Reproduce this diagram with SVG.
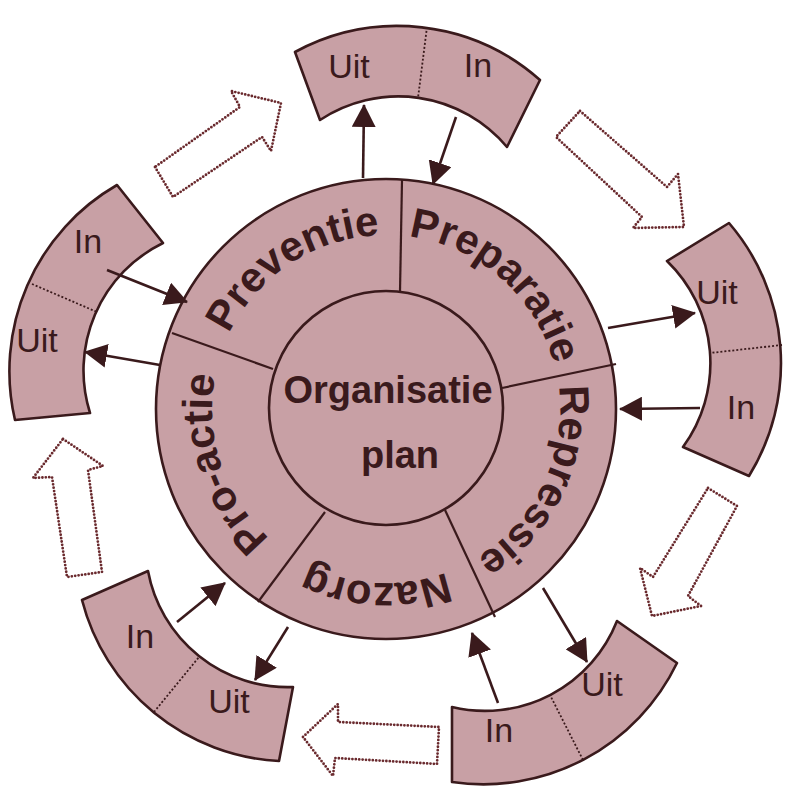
<svg xmlns="http://www.w3.org/2000/svg" xmlns:xlink="http://www.w3.org/1999/xlink" width="800" height="803" viewBox="0 0 800 803">
<style>
.shape{fill:#c8a0a5;stroke:#3a1a1c;stroke-width:2.6;stroke-linejoin:round}
.div{stroke:#3a1a1c;stroke-width:2.2;fill:none}
.dash{stroke:#3a1a1c;stroke-width:1.8;stroke-dasharray:2 2;fill:none}
.lbl{font-family:"Liberation Sans",Arial,sans-serif;font-size:34px;fill:#3a1a1c;text-anchor:middle}
.ring{font-family:"Liberation Sans",Arial,sans-serif;font-size:42px;font-weight:bold;fill:#3a1a1c}
.ctr{font-family:"Liberation Sans",Arial,sans-serif;font-size:38px;font-weight:bold;fill:#3a1a1c;text-anchor:middle}
.con{stroke:#3a1a1c;stroke-width:2.6;fill:none;marker-end:url(#ah)}
.blk{fill:none;stroke:#6a2a2e;stroke-width:2.8;stroke-dasharray:0 3.4;stroke-linecap:round;stroke-linejoin:round}
</style>
<defs>
<marker id="ah" viewBox="0 0 23 24" refX="22" refY="12" markerWidth="23" markerHeight="24" markerUnits="userSpaceOnUse" orient="auto">
<path d="M0,0 L23,12 L0,24 Z" fill="#3a1a1c"/>
</marker>
<path id="ringpath" d="M386,235 A174,174 0 1 1 386,583 A174,174 0 1 1 386,235"/>
</defs>
<rect width="800" height="803" fill="#ffffff"/>

<g id="dotted-arrows">
<polygon class="blk" points="155,167 173,197 262,137 271,151 281,103 231,91 240,107"/>
<polygon class="blk" points="580,111 667,187 678,174 684,227 633,228 642,217 556,137"/>
<polygon class="blk" points="708,488 737,506 688,596 701,606 652,616 640,568 653,577"/>
<polygon class="blk" points="303,737 338,704 338,722 439,727 437,764 335,758 333,776"/>
<polygon class="blk" points="63,439 103,466 88,470 102,572 67,577 52,477 33,478"/>
</g>

<g id="wheel">
<circle class="shape" cx="386" cy="409" r="230"/>
<line class="div" x1="400" y1="292" x2="402" y2="180"/>
<line class="div" x1="502" y1="388" x2="616" y2="364"/>
<line class="div" x1="445" y1="510" x2="495" y2="617"/>
<line class="div" x1="325" y1="512" x2="258" y2="602"/>
<line class="div" x1="273" y1="369" x2="172" y2="333"/>
<circle class="shape" cx="386" cy="408" r="117"/>
</g>

<g id="preventie"><text class="ring"><textPath xlink:href="#ringpath" href="#ringpath" startOffset="90.76%" text-anchor="middle">Preventie</textPath></text></g>
<g id="preparatie"><text class="ring"><textPath xlink:href="#ringpath" href="#ringpath" startOffset="11.47%" text-anchor="middle">Preparatie</textPath></text></g>
<g id="repressie"><text class="ring"><textPath xlink:href="#ringpath" href="#ringpath" startOffset="32.08%" text-anchor="middle">Repressie</textPath></text></g>
<g id="nazorg"><text class="ring"><textPath xlink:href="#ringpath" href="#ringpath" startOffset="50.86%" text-anchor="middle">Nazorg</textPath></text></g>
<g id="pro-actie"><text class="ring"><textPath xlink:href="#ringpath" href="#ringpath" startOffset="69.89%" text-anchor="middle">Pro-actie</textPath></text></g>

<g id="organisatieplan">
<text class="ctr" x="388" y="403">Organisatie</text>
<text class="ctr" x="400" y="468">plan</text>
</g>

<g id="box-top">
<path class="shape" d="M295,52 A215,215 0 0 1 540,80 L507,147 A142,142 0 0 0 320,120 Z"/>
<line class="dash" x1="427" y1="27" x2="418" y2="98"/>
<text class="lbl" x="349" y="78">Uit</text>
<text class="lbl" x="478" y="77">In</text>
</g>
<g id="box-right">
<path class="shape" d="M729,223 A215,215 0 0 1 749,476 L683,447 A142,142 0 0 0 667,261 Z"/>
<line class="dash" x1="782" y1="345" x2="710" y2="353"/>
<text class="lbl" x="717" y="304">Uit</text>
<text class="lbl" x="741" y="419">In</text>
</g>
<g id="box-bottom-right">
<path class="shape" d="M677,663 A215,215 0 0 1 452,782 L452,707 A142,142 0 0 0 617,621 Z"/>
<line class="dash" x1="583" y1="760" x2="550" y2="695"/>
<text class="lbl" x="602" y="696">Uit</text>
<text class="lbl" x="499" y="742">In</text>
</g>
<g id="box-bottom-left">
<path class="shape" d="M279,761 A215,215 0 0 1 82,600 L148,571 A142,142 0 0 0 293,687 Z"/>
<line class="dash" x1="154" y1="712" x2="199" y2="657"/>
<text class="lbl" x="140" y="648">In</text>
<text class="lbl" x="229" y="713">Uit</text>
</g>
<g id="box-left">
<path class="shape" d="M15,420 A215,215 0 0 1 117,185 L163,243 A142,142 0 0 0 90,413 Z"/>
<line class="dash" x1="32" y1="284" x2="97" y2="312"/>
<text class="lbl" x="88" y="253">In</text>
<text class="lbl" x="37" y="352">Uit</text>
</g>

<g id="connectors">
<line class="con" x1="363" y1="178" x2="364" y2="105"/>
<line class="con" x1="456" y1="117" x2="433" y2="184"/>
<line class="con" x1="608" y1="328" x2="695" y2="313"/>
<line class="con" x1="700" y1="408" x2="620" y2="409"/>
<line class="con" x1="543" y1="588" x2="587" y2="662"/>
<line class="con" x1="498" y1="703" x2="472" y2="633"/>
<line class="con" x1="288" y1="627" x2="255" y2="680"/>
<line class="con" x1="177" y1="622" x2="225" y2="583"/>
<line class="con" x1="160" y1="365" x2="85" y2="352"/>
<line class="con" x1="107" y1="270" x2="187" y2="302"/>
</g>
</svg>
